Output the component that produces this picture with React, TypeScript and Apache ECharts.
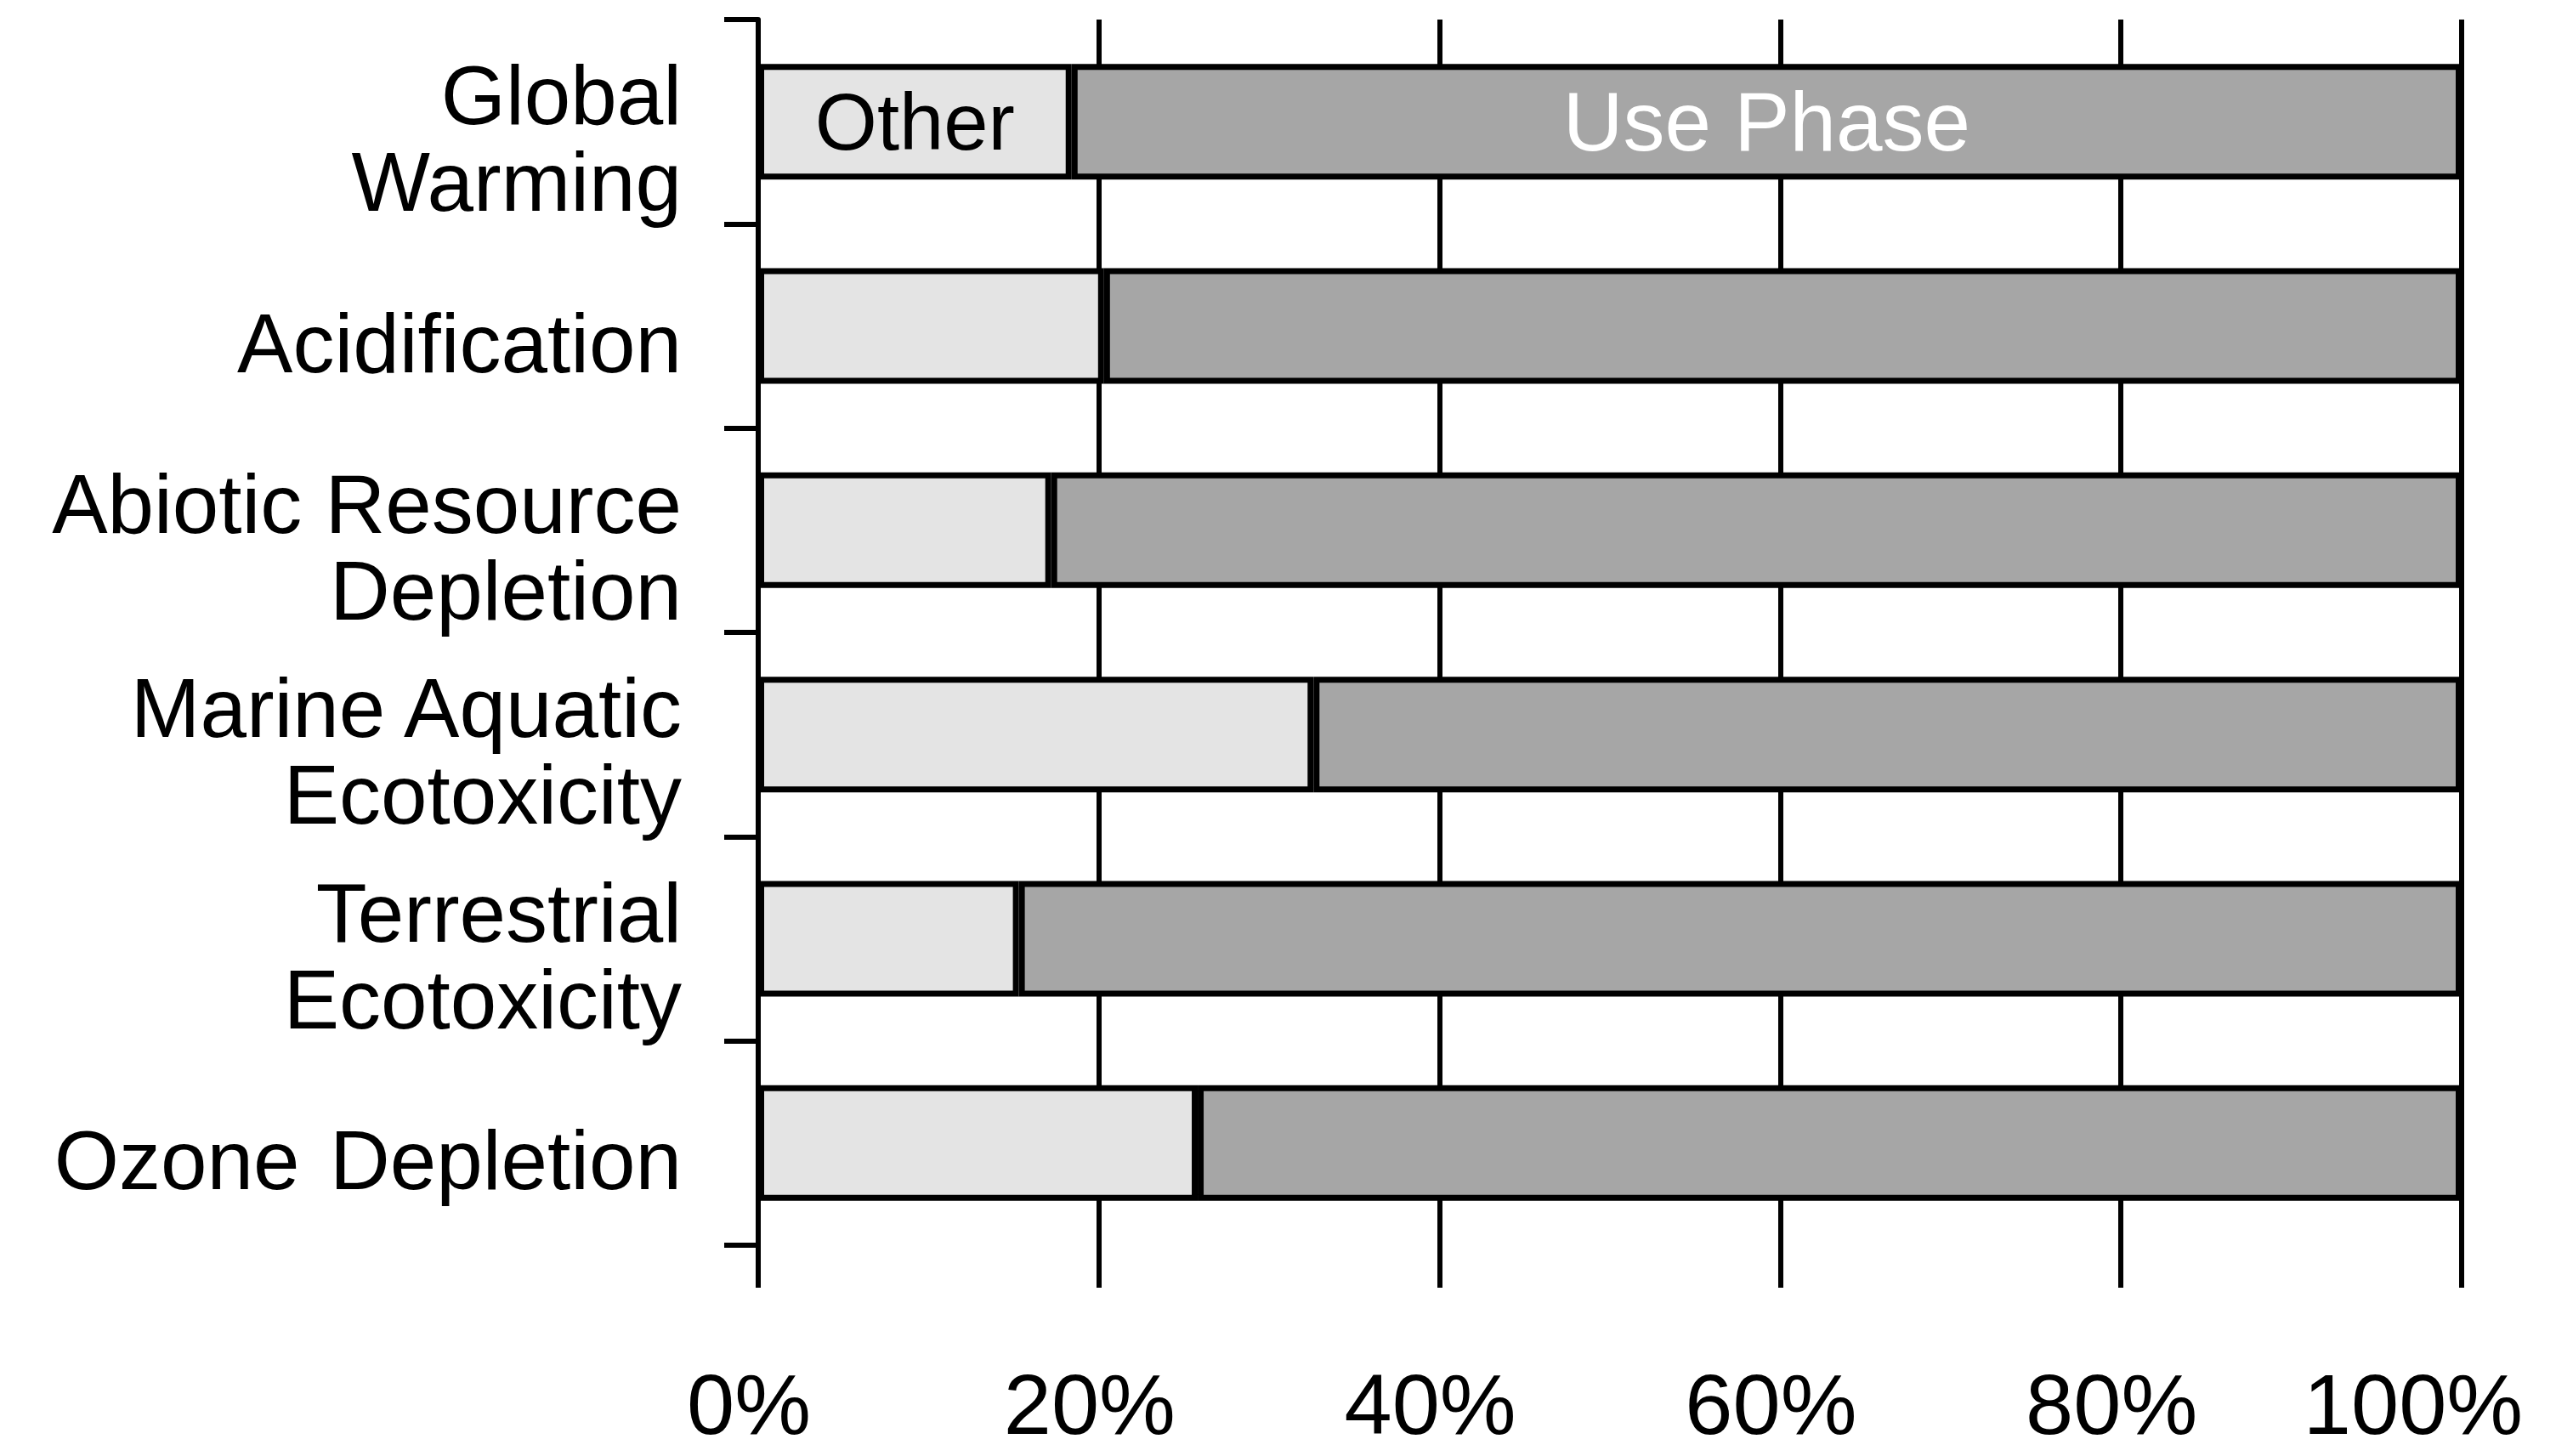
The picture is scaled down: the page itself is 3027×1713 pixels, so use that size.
import React, { useEffect, useRef } from "react";
import * as echarts from "echarts";

const categories = [
  "Global\nWarming",
  "Acidification",
  "Abiotic Resource\nDepletion",
  "Marine Aquatic\nEcotoxicity",
  "Terrestrial\nEcotoxicity",
  "Ozone \u200aDepletion",
];
const otherValues = [18.4, 20.3, 17.2, 32.6, 15.3, 25.8];
const usePhaseValues = [81.6, 79.7, 82.8, 67.4, 84.7, 74.2];
const xTicks = [0, 20, 40, 60, 80, 100];

const SANS = "'Liberation Sans', Arial, sans-serif";

export default function App() {
  const ref = useRef<HTMLDivElement>(null);
  useEffect(() => {
    if (!ref.current) return;
    const chart = echarts.init(ref.current, undefined, { renderer: "svg" });
    chart.setOption({
      animation: false,
      backgroundColor: "#ffffff",
      grid: {
        left: 892,
        right: 131,
        top: 23,
        bottom: 248,
        containLabel: false,
        outerBoundsMode: "none",
      },
      xAxis: {
        type: "value",
        min: xTicks[0],
        max: xTicks[xTicks.length - 1],
        interval: 20,
        position: "bottom",
        axisLine: { show: false },
        axisTick: { show: true, length: 50, lineStyle: { color: "#000", width: 6 } },
        splitLine: { show: true, lineStyle: { color: "#000", width: 6 } },
        axisLabel: {
          formatter: (v: number) =>
            v === xTicks[xTicks.length - 1] ? `{b|${v}%}` : `{a|${v}%}`,
          fontSize: 101,
          fontFamily: SANS,
          color: "#000",
          margin: 136,
          rich: {
            a: { fontSize: 101, fontFamily: SANS, color: "#000", padding: [0, 22, 0, 0] },
            b: { fontSize: 101, fontFamily: SANS, color: "#000", padding: [0, 114, 0, 0] },
          },
        },
      },
      yAxis: {
        type: "category",
        inverse: true,
        data: categories,
        axisLine: { show: true, lineStyle: { color: "#000", width: 6 } },
        axisTick: { show: true, length: 40, lineStyle: { color: "#000", width: 6 } },
        splitLine: { show: false },
        axisLabel: {
          formatter: (v: string) =>
            "{s| }\n" + v.split("\n").map((l) => `{a|${l}}`).join("\n"),
          fontSize: 98,
          fontFamily: SANS,
          color: "#000",
          margin: 90,
          align: "right",
          rich: {
            s: { fontSize: 2, lineHeight: 40 },
            a: { fontSize: 98, fontFamily: SANS, color: "#000", lineHeight: 102 },
          },
        },
      },
      series: [
        {
          name: "Other",
          type: "bar",
          stack: "total",
          barWidth: 136,
          itemStyle: { color: "#e4e4e4", borderColor: "#000", borderWidth: 7 },
          data: otherValues.map((v, i) =>
            i === 0
              ? { value: v, label: { show: true, formatter: "Other" } }
              : v
          ),
          label: {
            show: false,
            position: "inside",
            color: "#000",
            fontSize: 94,
            fontFamily: SANS,
          },
        },
        {
          name: "Use Phase",
          type: "bar",
          stack: "total",
          barWidth: 136,
          itemStyle: { color: "#a6a6a6", borderColor: "#000", borderWidth: 7 },
          data: usePhaseValues.map((v, i) =>
            i === 0
              ? { value: v, label: { show: true, formatter: "Use Phase" } }
              : v
          ),
          label: {
            show: false,
            position: "inside",
            color: "#fff",
            fontSize: 98,
            fontFamily: SANS,
          },
        },
      ],
    });
    return () => chart.dispose();
  }, []);
  return (
    <div
      ref={ref}
      style={{ position: "fixed", left: 0, top: 0, width: "3027px", height: "1713px" }}
    />
  );
}
